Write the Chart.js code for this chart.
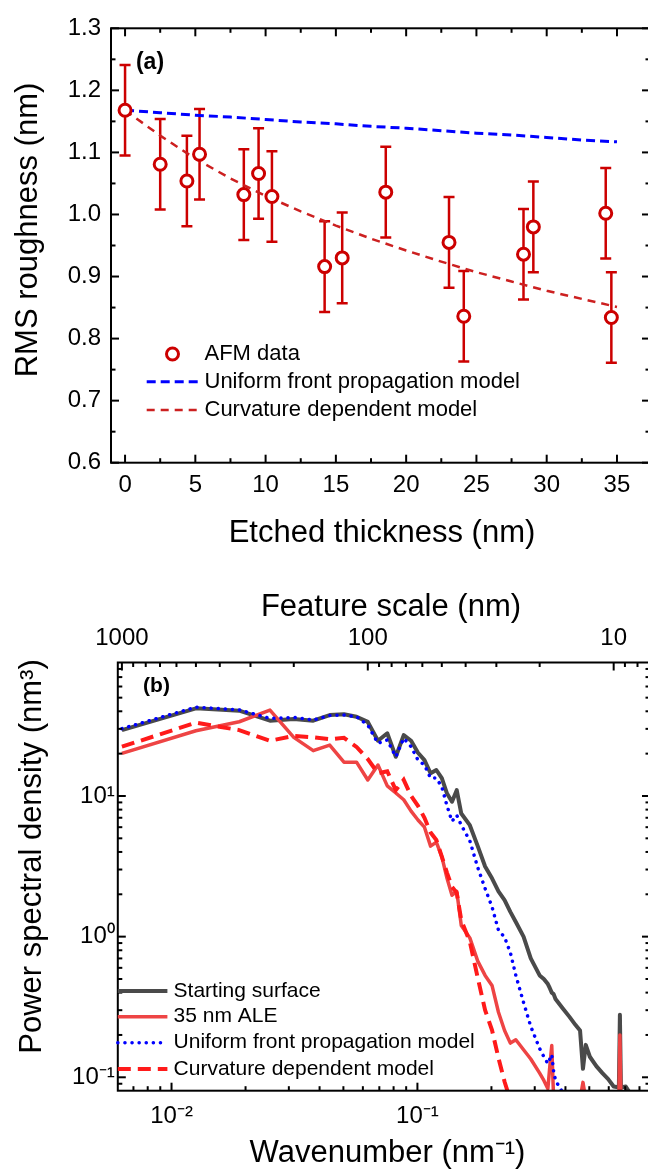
<!DOCTYPE html>
<html>
<head>
<meta charset="utf-8">
<script src="https://cdn.jsdelivr.net/npm/chart.js@4.4.0/dist/chart.umd.min.js"></script>
<style>
  html, body { margin: 0; padding: 0; background: #fff; overflow: hidden; width: 648px; height: 1169px; }
  canvas { position: absolute; left: 0; }
  #panelA { top: 0; }
  #panelB { top: 580px; }
</style>
</head>
<body>
<canvas id="panelA" width="660" height="580"></canvas>
<canvas id="panelB" width="660" height="589"></canvas>
<script>
// ---- Panel (a): rugosidad RMS contra espesor grabado ----
const espesor = [0, 2.5, 4.4, 5.3, 8.45, 9.5, 10.45, 14.2, 15.45, 18.55, 23.05, 24.1, 28.35, 29.05, 34.2, 34.6];
const rugosidad = [1.168, 1.081, 1.054, 1.097, 1.032, 1.066, 1.029, 0.916, 0.930, 1.036, 0.955, 0.836, 0.936, 0.980, 1.002, 0.834];
const errorRugosidad = [0.073, 0.073, 0.073, 0.073, 0.073, 0.073, 0.073, 0.073, 0.073, 0.073, 0.073, 0.073, 0.073, 0.073, 0.073, 0.073];
const espesorModelo = [0, 2.5, 5, 7.5, 10, 12.5, 15, 17.5, 20, 22.5, 25, 27.5, 30, 32.5, 35];
const modeloUniforme = [1.168, 1.164, 1.160, 1.157, 1.153, 1.149, 1.146, 1.142, 1.139, 1.135, 1.131, 1.128, 1.124, 1.120, 1.117];
const modeloCurvatura = [1.168, 1.127, 1.090, 1.058, 1.030, 1.005, 0.982, 0.961, 0.942, 0.924, 0.907, 0.892, 0.877, 0.864, 0.851];
const ticksEspesor = [0, 5, 10, 15, 20, 25, 30, 35];
const ticksEspesorMenor = [2.5, 7.5, 12.5, 17.5, 22.5, 27.5, 32.5];
const ticksRugosidad = [0.6, 0.7, 0.8, 0.9, 1.0, 1.1, 1.2, 1.3];
const ticksRugosidadMenor = [0.65, 0.75, 0.85, 0.95, 1.05, 1.15, 1.25];

// ---- Panel (b): densidad espectral de potencia ----
const numeroOnda = [0.006283, 0.012566, 0.018850, 0.025133, 0.031416, 0.037699, 0.043982, 0.050265, 0.056549, 0.062832,
  0.069115, 0.075398, 0.081681, 0.087965, 0.094248, 0.10053, 0.10681, 0.11310, 0.11938, 0.12566,
  0.13195, 0.13823, 0.14451, 0.15080, 0.16336, 0.17593, 0.18850, 0.20106, 0.21363, 0.22619,
  0.23876, 0.25133, 0.27018, 0.28903, 0.31416, 0.32673, 0.33929, 0.34558, 0.35186, 0.35814,
  0.36442, 0.38956, 0.41469, 0.43982, 0.45867, 0.47124, 0.48381, 0.50265, 0.53407, 0.56549,
  0.59690, 0.62832, 0.65345, 0.65973, 0.66602, 0.67230, 0.67858, 0.70372, 0.72885, 0.75398];
const psdInicial = [29.4, 42.0, 40.4, 34.3, 35.3, 34.3, 37.6, 38.1, 36.6, 33.6,
  24.7, 27.9, 19.0, 27.1, 24.7, 20.3, 18.0, 14.5, 15.3, 13.4,
  10.4, 9.1, 11.0, 7.5, 6.2, 4.4, 3.15, 2.6, 2.1, 1.82,
  1.5, 1.27, 1.0, 0.70, 0.53, 0.50, 0.46, 0.43, 0.40, 0.39,
  0.36, 0.31, 0.27, 0.235, 0.215, 0.115, 0.17, 0.14, 0.12, 0.107,
  0.097, 0.086, 0.085, 0.088, 0.278, 0.088, 0.085, 0.086, 0.078, 0.07];
const psdAle = [20.1, 29.1, 33.7, 40.8, 26.1, 21.0, 23.0, 17.4, 17.4, 13.0,
  16.6, 11.8, 10.5, 9.4, 7.8, 6.75, 6.0, 4.4, 4.7, 3.7,
  2.6, 1.97, 2.1, 1.2, 0.98, 0.67, 0.53, 0.45, 0.29, 0.215,
  0.175, 0.185, 0.157, 0.135, 0.107, 0.095, 0.083, 0.12, 0.168, 0.07,
  null, null, null, null, 0.07, 0.092, 0.07, null, null, null,
  null, null, 0.07, 0.07, 0.2, 0.07, 0.07, null, null, null];
const psdUniforme = [30.1, 42.8, 40.9, 35.6, 36.2, 34.7, 37.3, 37.6, 36.6, 31.9,
  23.7, 25.0, 19.0, 25.7, 22.4, 18.0, 16.6, 13.4, 13.4, 11.6,
  8.5, 6.6, 7.3, 6.2, 4.8, 3.1, 2.2, 1.63, 1.11, 0.99,
  0.77, 0.53, 0.34, 0.23, 0.16, 0.14, 0.125, 0.135, 0.145, 0.11,
  0.095, 0.078, null, null, null, null, null, null, null, null,
  null, null, null, null, null, null, null, null, null, null];
const psdCurvatura = [22.4, 33.2, 29.4, 24.7, 26.7, 26.1, 25.3, 25.9, 22.3, 18.3,
  14.5, 15.0, 11.0, 13.0, 10.0, 8.5, 7.0, 5.5, 4.87, 3.7,
  2.84, 2.26, 2.05, 1.31, 0.92, 0.51, 0.30, 0.217, 0.137, 0.093,
  0.069, null, null, null, null, null, null, null, null, null,
  null, null, null, null, null, null, null, null, null, null,
  null, null, null, null, null, null, null, null, null, null];
// escala de rasgos (nm) del eje superior
const escalaRasgo = [1000, 900, 800, 700, 600, 500, 400, 300, 200, 100, 90, 80, 70, 60, 50, 40, 30, 20, 10, 9, 8];
const escalaRasgoMayor = [1000, 100, 10];

const FAMILIA = 'Arial, "Liberation Sans", Helvetica, sans-serif';
Chart.defaults.font.family = FAMILIA;
Chart.defaults.font.size = 24;
Chart.defaults.color = '#000';

const superindice = { '-': '\u207B', '0': '\u2070', '1': '\u00B9', '2': '\u00B2', '3': '\u00B3' };
function potencia(v) {
  const e = String(Math.round(Math.log10(v)));
  return '10' + e.split('').map(c => superindice[c]).join('');
}

// ticks logaritmicos 1..9 x 10^n dentro del rango
function ticksLog(escala) {
  const lista = [];
  for (let e = Math.floor(Math.log10(escala.min)); e <= Math.ceil(Math.log10(escala.max)); e++) {
    for (let m = 1; m <= 9; m++) {
      const v = m * Math.pow(10, e);
      if (v >= escala.min && v <= escala.max) lista.push({ value: v, major: m === 1 });
    }
  }
  escala.ticks = lista;
}

// marco y marcas de los ejes hacia adentro
const marco = {
  id: 'marco',
  afterDatasetsDraw(chart, args, opts) {
    const { ctx, chartArea: a } = chart;
    ctx.save();
    ctx.strokeStyle = '#000';
    ctx.lineWidth = 2;
    ctx.strokeRect(a.left, a.top, a.right - a.left, a.bottom - a.top);
    opts.ejes.forEach(eje => {
      const escala = chart.scales[eje.id];
      escala.ticks.forEach(t => {
        const p = escala.getPixelForValue(t.value);
        const largo = t.major ? 8 : 4.5;
        eje.lados.forEach(lado => {
          ctx.beginPath();
          if (lado === 'bottom') { ctx.moveTo(p, a.bottom); ctx.lineTo(p, a.bottom - largo); }
          if (lado === 'top') { ctx.moveTo(p, a.top); ctx.lineTo(p, a.top + largo); }
          if (lado === 'left') { ctx.moveTo(a.left, p); ctx.lineTo(a.left + largo, p); }
          if (lado === 'right') { ctx.moveTo(a.right, p); ctx.lineTo(a.right - largo, p); }
          ctx.stroke();
        });
      });
    });
    ctx.restore();
  }
};

const barrasError = {
  id: 'barrasError',
  beforeDatasetsDraw(chart) {
    const { ctx, scales: { x, y } } = chart;
    ctx.save();
    ctx.strokeStyle = '#cc0000';
    ctx.lineWidth = 2.5;
    espesor.forEach((e, i) => {
      const px = x.getPixelForValue(e);
      const arriba = y.getPixelForValue(rugosidad[i] + errorRugosidad[i]);
      const abajo = y.getPixelForValue(rugosidad[i] - errorRugosidad[i]);
      ctx.beginPath();
      ctx.moveTo(px, arriba); ctx.lineTo(px, abajo);
      ctx.moveTo(px - 5.5, arriba); ctx.lineTo(px + 5.5, arriba);
      ctx.moveTo(px - 5.5, abajo); ctx.lineTo(px + 5.5, abajo);
      ctx.stroke();
    });
    ctx.restore();
  }
};

const leyenda = {
  id: 'leyenda',
  afterDraw(chart, args, opts) {
    const ctx = chart.ctx;
    ctx.save();
    ctx.font = opts.fuente;
    ctx.textBaseline = 'middle';
    opts.items.forEach(item => {
      const ds = chart.data.datasets[item.serie];
      ctx.save();
      if (ds.showLine === false) {
        ctx.beginPath();
        ctx.arc((item.x0 + item.x1) / 2, item.y, ds.pointRadius, 0, 2 * Math.PI);
        ctx.fillStyle = ds.backgroundColor;
        ctx.fill();
        ctx.lineWidth = ds.pointBorderWidth;
        ctx.strokeStyle = ds.borderColor;
        ctx.stroke();
      } else {
        ctx.beginPath();
        ctx.setLineDash(ds.borderDash || []);
        ctx.lineCap = ds.borderCapStyle || 'butt';
        ctx.lineWidth = ds.borderWidth;
        ctx.strokeStyle = ds.borderColor;
        ctx.moveTo(item.x0, item.y);
        ctx.lineTo(item.x1, item.y);
        ctx.stroke();
      }
      ctx.restore();
      ctx.fillStyle = '#000';
      ctx.fillText(ds.label, item.xt, item.y);
    });
    ctx.restore();
  }
};

const textos = {
  id: 'textos',
  afterDraw(chart, args, opts) {
    const ctx = chart.ctx;
    opts.lista.forEach(t => {
      ctx.save();
      ctx.font = t.fuente;
      ctx.fillStyle = '#000';
      ctx.textAlign = 'center';
      ctx.textBaseline = 'middle';
      ctx.translate(t.x, t.y);
      if (t.girado) ctx.rotate(-Math.PI / 2);
      ctx.fillText(t.texto, 0, 0);
      ctx.restore();
    });
  }
};

// ---------- Grafico (a) ----------
new Chart(document.getElementById('panelA'), {
  type: 'scatter',
  data: {
    datasets: [{
      label: 'AFM data',
      data: espesor.map((x, i) => ({ x: x, y: rugosidad[i] })),
      showLine: false,
      pointStyle: 'circle',
      pointRadius: 6,
      pointBorderWidth: 3,
      borderColor: '#cc0000',
      backgroundColor: '#ffffff',
      order: 0
    }, {
      label: 'Uniform front propagation model',
      data: espesorModelo.map((x, i) => ({ x: x, y: modeloUniforme[i] })),
      showLine: true,
      pointRadius: 0,
      borderColor: '#0000ff',
      borderWidth: 3,
      borderDash: [9, 5],
      order: 1
    }, {
      label: 'Curvature dependent model',
      data: espesorModelo.map((x, i) => ({ x: x, y: modeloCurvatura[i] })),
      showLine: true,
      pointRadius: 0,
      borderColor: '#cc2020',
      borderWidth: 2.5,
      borderDash: [8, 6],
      order: 2
    }]
  },
  options: {
    responsive: false,
    animation: false,
    devicePixelRatio: 1,
    events: [],
    layout: { padding: { left: 0, right: 10, top: 28.3, bottom: 0 } },
    scales: {
      x: {
        type: 'linear', min: -1, max: 37.35,
        grid: { display: false, drawTicks: false },
        border: { display: false },
        ticks: { autoSkip: false, maxRotation: 0, padding: 8,
          callback: (v, i, t) => t[i].major ? String(v) : '' },
        afterBuildTicks: s => {
          s.ticks = ticksEspesor.map(v => ({ value: v, major: true }))
            .concat(ticksEspesorMenor.map(v => ({ value: v, major: false })));
        },
        afterFit: s => { s.height = 117.3; }
      },
      y: {
        type: 'linear', min: 0.6, max: 1.3,
        grid: { display: false, drawTicks: false },
        border: { display: false },
        ticks: { autoSkip: false, padding: 10,
          callback: (v, i, t) => t[i].major ? v.toFixed(1) : '' },
        afterBuildTicks: s => {
          s.ticks = ticksRugosidad.map(v => ({ value: v, major: true }))
            .concat(ticksRugosidadMenor.map(v => ({ value: v, major: false })));
        },
        afterFit: s => { s.width = 111; }
      }
    },
    plugins: {
      legend: { display: false },
      tooltip: { enabled: false },
      marco: { ejes: [{ id: 'x', lados: ['bottom', 'top'] }, { id: 'y', lados: ['left', 'right'] }] },
      leyenda: {
        fuente: '22px ' + FAMILIA,
        items: [
          { serie: 0, x0: 146.7, x1: 198.3, xt: 204.5, y: 354 },
          { serie: 1, x0: 146.7, x1: 198.3, xt: 204.5, y: 381.7 },
          { serie: 2, x0: 146.7, x1: 198.3, xt: 204.5, y: 410 }
        ]
      },
      textos: {
        lista: [
          { texto: 'Etched thickness (nm)', x: 382, y: 533, fuente: '31px ' + FAMILIA },
          { texto: 'RMS roughness (nm)', x: 28, y: 230, girado: true, fuente: '31px ' + FAMILIA },
          { texto: '(a)', x: 150, y: 63, fuente: 'bold 23px ' + FAMILIA }
        ]
      }
    }
  },
  plugins: [barrasError, marco, leyenda, textos]
});

// ---------- Grafico (b) ----------
const puntos = serie => numeroOnda.map((k, i) => ({ x: k, y: serie[i] }));

new Chart(document.getElementById('panelB'), {
  type: 'scatter',
  data: {
    datasets: [{
      label: 'Starting surface',
      data: puntos(psdInicial),
      showLine: true, pointRadius: 0, spanGaps: false,
      borderColor: '#4a4a4a', borderWidth: 4, borderJoinStyle: 'round',
      order: 3
    }, {
      label: '35 nm ALE',
      data: puntos(psdAle),
      showLine: true, pointRadius: 0, spanGaps: false,
      borderColor: '#ee4444', borderWidth: 3.5, borderJoinStyle: 'round',
      order: 2
    }, {
      label: 'Uniform front propagation model',
      data: puntos(psdUniforme),
      showLine: true, pointRadius: 0, spanGaps: false,
      borderColor: '#0000ff', borderWidth: 3.5, borderDash: [0.1, 7], borderCapStyle: 'round',
      order: 1
    }, {
      label: 'Curvature dependent model',
      data: puntos(psdCurvatura),
      showLine: true, pointRadius: 0, spanGaps: false,
      borderColor: '#ff1a1a', borderWidth: 4, borderDash: [13, 7],
      order: 0
    }]
  },
  options: {
    responsive: false,
    animation: false,
    devicePixelRatio: 1,
    events: [],
    layout: { padding: { left: 0, right: 10, top: 0, bottom: 0 } },
    scales: {
      x: {
        type: 'logarithmic', min: 0.006046, max: 0.8829,
        grid: { display: false, drawTicks: false },
        border: { display: false },
        ticks: { autoSkip: false, maxRotation: 0, padding: 11,
          callback: (v, i, t) => t[i].major ? potencia(t[i].value) : '' },
        afterBuildTicks: ticksLog,
        afterFit: s => { s.height = 78.3; }
      },
      x2: {
        type: 'logarithmic', axis: 'x', position: 'top', min: 0.006046, max: 0.8829,
        grid: { display: false, drawTicks: false },
        border: { display: false },
        ticks: { autoSkip: false, maxRotation: 0, padding: 10,
          callback: (v, i, t) => t[i].major ? String(t[i].rasgo) : '' },
        afterBuildTicks: s => {
          s.ticks = escalaRasgo.map(L => ({ value: 2 * Math.PI / L, major: escalaRasgoMayor.includes(L), rasgo: L }));
        },
        afterFit: s => { s.height = 82.5; }
      },
      y: {
        type: 'logarithmic', min: 0.0803, max: 88.9,
        grid: { display: false, drawTicks: false },
        border: { display: false },
        ticks: { autoSkip: false, padding: 3,
          callback: (v, i, t) => t[i].major ? potencia(t[i].value) : '' },
        afterBuildTicks: ticksLog,
        afterFit: s => { s.width = 117.8; }
      }
    },
    plugins: {
      legend: { display: false },
      tooltip: { enabled: false },
      marco: { ejes: [{ id: 'x', lados: ['bottom'] }, { id: 'x2', lados: ['top'] }, { id: 'y', lados: ['left', 'right'] }] },
      leyenda: {
        fuente: '21px ' + FAMILIA,
        items: [
          { serie: 0, x0: 117.8, x1: 167.4, xt: 173.6, y: 411 },
          { serie: 1, x0: 117.8, x1: 167.4, xt: 173.6, y: 436.7 },
          { serie: 2, x0: 117.8, x1: 167.4, xt: 173.6, y: 462.7 },
          { serie: 3, x0: 117.8, x1: 167.4, xt: 173.6, y: 489 }
        ]
      },
      textos: {
        lista: [
          { texto: 'Feature scale (nm)', x: 391, y: 27, fuente: '31px ' + FAMILIA },
          { texto: 'Wavenumber (nm\u207B\u00B9)', x: 387.5, y: 573, fuente: '31px ' + FAMILIA },
          { texto: 'Power spectral density (nm\u00B3)', x: 32, y: 276.5, girado: true, fuente: '31px ' + FAMILIA },
          { texto: '(b)', x: 156.5, y: 106.5, fuente: 'bold 21px ' + FAMILIA }
        ]
      }
    }
  },
  plugins: [marco, leyenda, textos]
});
</script>
</body>
</html>
